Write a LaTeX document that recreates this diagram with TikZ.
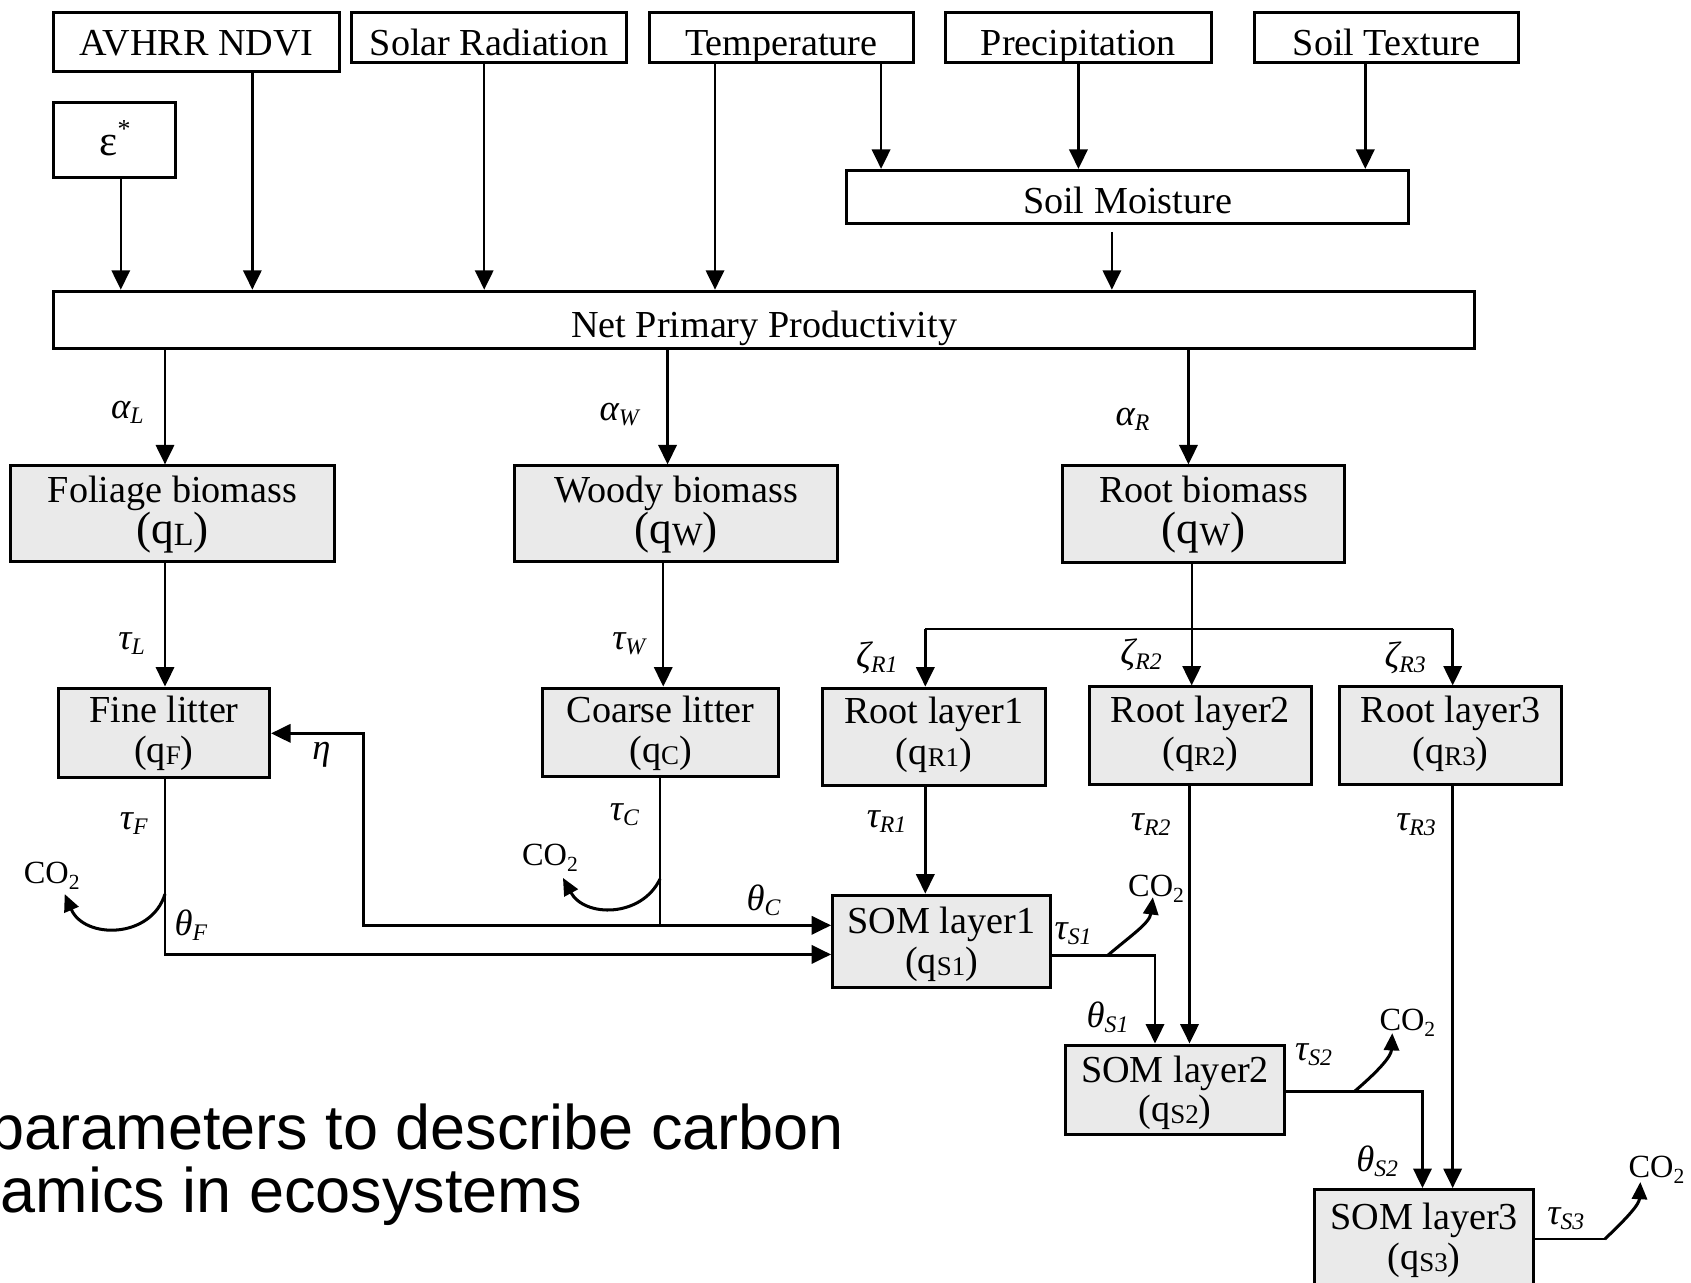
\documentclass[tikz,border=0pt]{standalone}
\usepackage{fontspec}
\setmainfont{Liberation Serif}
\newfontfamily\arialf{Liberation Sans}
\usetikzlibrary{arrows.meta}
\definecolor{boxgray}{HTML}{EAEAEA}
\newcommand{\fs}[1]{\fontsize{#1}{#1}\selectfont}
\newcommand{\gsym}[2]{{\fs{17}\itshape #1\raisebox{-0.3ex}{\fs{11}\itshape #2}}}
\newcommand{\qq}[2]{(q\raisebox{-0.1ex}{\fs{#2}#1})}
\newcommand{\cotwo}{{\fs{15}CO\raisebox{-0.4ex}{\fs{10}2}}}
\tikzset{
  topbox/.style={draw, line width=1.4pt, fill=white, inner sep=0pt},
  graybox/.style={draw, line width=1.4pt, fill=boxgray, inner sep=0pt},
  txt/.style={inner sep=0pt, font=\fs{17.7}},
  lbl/.style={inner sep=0pt},
  arr/.style={line width=1.1pt, -{Triangle[length=9pt,width=8.5pt]}},
  ln/.style={line width=1.1pt},
  curv/.style={line width=1.4pt, -{Triangle[length=8pt,width=7pt]}}
}
% name x1 y1 x2 y2 baseline text
\newcommand{\tbox}[7]{%
  \node[topbox, minimum width={(#4-#2)*0.5pt}, minimum height={(#5-#3)*0.5pt}] (#1) at ({(#2+#4)/2},{(#3+#5)/2}) {};
  \node[txt, anchor=base] (#1t) at ({(#2+#4)/2},#6) {#7};}
% name x1 y1 x2 y2 base1 text1 base2 text2
\newcommand{\gbox}[9]{%
  \node[graybox, minimum width={(#4-#2)*0.5pt}, minimum height={(#5-#3)*0.5pt}] (#1) at ({(#2+#4)/2},{(#3+#5)/2}) {};
  \node[txt, anchor=base] (#1a) at ({(#2+#4)/2},#6) {#7};
  \node[txt, anchor=base] (#1b) at ({(#2+#4)/2},#8) {#9};}
\begin{document}
\begin{tikzpicture}[x=0.5pt,y=-0.5pt]
\clip (0,0) rectangle (1568,1189);
\fill[white] (0,0) rectangle (1568,1189);

% top boxes
\tbox{avhrr}{50}{12}{315}{66}{51}{AVHRR NDVI}
\tbox{solar}{326}{12}{581}{58}{51}{Solar Radiation}
\tbox{temp}{602}{12}{847}{58}{51}{Temperature}
\tbox{precip}{877}{12}{1123}{58}{51}{Precipitation}
\tbox{soiltex}{1163}{12}{1408}{58}{51}{Soil Texture}
\node[topbox, minimum width={113*0.5pt}, minimum height={70*0.5pt}] (eps) at (106.5,130) {};
\node[txt, anchor=base, font=\fs{20}] (epst) at (101,144) {ε};
\node[lbl, font=\fs{12}] (epsstar) at (115,120) {*};
\tbox{soilm}{785}{158}{1306}{207}{198}{Soil Moisture}
\tbox{npp}{50}{270}{1367}{323}{313}{Net Primary Productivity}

% gray boxes
\gbox{fol}{10}{432}{310}{521}{466}{Foliage biomass}{504}{{\fs{21}\qq{L}{15}}}
\gbox{woody}{477}{432}{777}{521}{466}{Woody biomass}{504}{{\fs{21}\qq{W}{15}}}
\gbox{rootb}{985}{432}{1247}{522}{466}{Root biomass}{504}{{\fs{21}\qq{W}{15}}}
\gbox{fine}{54}{638}{250}{721}{670}{Fine litter}{707}{\qq{F}{12.5}}
\gbox{coarse}{503}{638}{722}{720}{670}{Coarse litter}{707}{\qq{C}{12.5}}
\gbox{rl1}{763}{638}{969}{728}{671}{Root layer1}{709}{\qq{R1}{12.5}}
\gbox{rl2}{1010}{637}{1216}{727}{670}{Root layer2}{708}{\qq{R2}{12.5}}
\gbox{rl3}{1242}{637}{1448}{727}{670}{Root layer3}{708}{\qq{R3}{12.5}}
\gbox{som1}{772}{830}{974}{916}{866}{SOM layer1}{903}{\qq{S1}{12.5}}
\gbox{som2}{988}{969}{1191}{1052}{1004}{SOM layer2}{1040}{\qq{S2}{12.5}}
\gbox{som3}{1219}{1103}{1422}{1192}{1140}{SOM layer3}{1177}{\qq{S3}{12.5}}

% top connectors
\draw[arr] (112,0 |- eps.south) -- (112,0 |- npp.north);
\draw[arr] (234,0 |- avhrr.south) -- (234,0 |- npp.north);
\draw[arr] (449,0 |- solar.south) -- (449,0 |- npp.north);
\draw[arr] (663,0 |- temp.south) -- (663,0 |- npp.north);
\draw[arr] (817,0 |- temp.south) -- (817,0 |- soilm.north);
\draw[arr] (1000,0 |- precip.south) -- (1000,0 |- soilm.north);
\draw[arr] (1266,0 |- soiltex.south) -- (1266,0 |- soilm.north);
\coordinate (smout) at (1031,215);
\draw[arr] (smout) -- (smout |- npp.north);

% NPP to biomass
\draw[arr] (153,0 |- npp.south) -- (153,0 |- fol.north);
\draw[arr] (619,0 |- npp.south) -- (619,0 |- woody.north);
\draw[arr] (1102,0 |- npp.south) -- (1102,0 |- rootb.north);

% biomass to litter / root layers
\draw[arr] (153,0 |- fol.south) -- (153,0 |- fine.north);
\draw[arr] (615,0 |- woody.south) -- (615,0 |- coarse.north);
\draw[arr] (1105,0 |- rootb.south) -- (1105,0 |- rl2.north);
\coordinate (brL) at (858,583);
\coordinate (brR) at (1347,583);
\draw[ln] (brL) -- (brR);
\draw[arr] (brL) -- (brL |- rl1.north);
\draw[arr] (brR) -- (brR |- rl3.north);

% litter to SOM1
\draw[arr] (153,0 |- fine.south) |- (som1.west |- 0,885);
\coordinate (cj) at (612,858);
\draw[ln] (612,0 |- coarse.south) -- (cj);
\draw[arr] (cj) -- (som1.west |- cj);
\draw[arr] (cj) -| (337,680) -- (fine.east |- 337,680);

% root layers and SOM chain
\draw[arr] (858,0 |- rl1.south) -- (858,0 |- som1.north);
\draw[arr] (som1.east |- 0,886) -| (1071,0 |- som2.north);
\draw[arr] (1103,0 |- rl2.south) -- (1103,0 |- som2.north);
\draw[arr] (som2.east |- 0,1012) -| (1319,0 |- som3.north);
\draw[arr] (1347,0 |- rl3.south) -- (1347,0 |- som3.north);
\coordinate (s3o) at (1488,1149);
\draw[ln] (som3.east |- s3o) -- (s3o);

% CO2 curves
\coordinate (cfa) at (153,829);
\coordinate (cfb) at (60,829);
\draw[curv] (cfa) .. controls (140,871) and (78,871) .. (cfb);
\coordinate (cca) at (612,815);
\coordinate (ccb) at (522,814);
\draw[curv] (cca) .. controls (595,851) and (542,851) .. (ccb);
\coordinate (c1a) at (1027,886);
\coordinate (c1b) at (1069,832);
\draw[curv] (c1a) .. controls (1048,868) and (1066,856) .. (c1b);
\coordinate (c2a) at (1256,1012);
\coordinate (c2b) at (1291,958);
\draw[curv] (c2a) .. controls (1277,994) and (1290,980) .. (c2b);
\coordinate (c3b) at (1521,1096);
\draw[curv] (s3o) .. controls (1508,1130) and (1520,1117) .. (c3b);

% labels
\node[lbl] (aL) at (118,382) {\gsym{α}{L}};
\node[lbl] (aW) at (574,384) {\gsym{α}{W}};
\node[lbl] (aR) at (1050,389) {\gsym{α}{R}};
\node[lbl] (tL) at (122,597) {\gsym{τ}{L}};
\node[lbl] (tW) at (583,597) {\gsym{τ}{W}};
\node[lbl] (zR1) at (813,610) {\gsym{ζ}{R1}};
\node[lbl] (zR2) at (1058,607) {\gsym{ζ}{R2}};
\node[lbl] (zR3) at (1303,610) {\gsym{ζ}{R3}};
\node[lbl] (tF) at (124,764) {\gsym{τ}{F}};
\node[lbl] (thF) at (177,858) {\gsym{θ}{F}};
\node[lbl] (eta) at (298,700) {\gsym{η}{}};
\node[lbl] (co2a) at (48,812) {\cotwo};
\node[lbl] (co2b) at (510,795) {\cotwo};
\node[lbl] (tC) at (579,755) {\gsym{τ}{C}};
\node[lbl] (thC) at (708,835) {\gsym{θ}{C}};
\node[lbl] (tR1) at (822,762) {\gsym{τ}{R1}};
\node[lbl] (tR2) at (1067,765) {\gsym{τ}{R2}};
\node[lbl] (tR3) at (1313,765) {\gsym{τ}{R3}};
\node[lbl] (co2c) at (1072,824) {\cotwo};
\node[lbl] (tS1) at (995,866) {\gsym{τ}{S1}};
\node[lbl] (thS1) at (1027,943) {\gsym{θ}{S1}};
\node[lbl] (tS2) at (1218,978) {\gsym{τ}{S2}};
\node[lbl] (co2d) at (1305,948) {\cotwo};
\node[lbl] (thS2) at (1277,1077) {\gsym{θ}{S2}};
\node[lbl] (tS3) at (1452,1130) {\gsym{τ}{S3}};
\node[lbl] (co2e) at (1536,1085) {\cotwo};

% caption fragment
\node[anchor=base east, inner sep=0pt, font=\arialf\fs{29.2}] (cap1) at (783,1066) {parameters to describe carbon};
\node[anchor=base east, inner sep=0pt, font=\arialf\fs{29.2}] (cap2) at (540,1124) {amics in ecosystems};
\end{tikzpicture}
\end{document}
